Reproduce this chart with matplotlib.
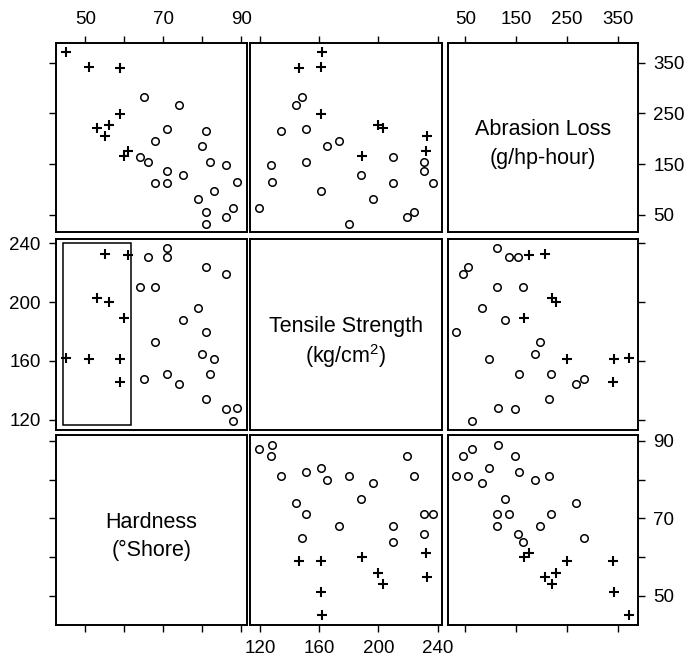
import matplotlib
matplotlib.use('Agg')
import matplotlib.pyplot as plt
from matplotlib.patches import Rectangle
import numpy as np

# rubber specimens: abrasion loss, hardness, tensile strength
loss = [372, 206, 175, 154, 136, 112, 55, 45, 221, 166, 164, 113, 82, 32, 228,
        196, 128, 97, 64, 249, 219, 186, 155, 114, 341, 340, 283, 267, 215, 148]
hard = [45, 55, 61, 66, 71, 71, 81, 86, 53, 60, 64, 68, 79, 81, 56,
        68, 75, 83, 88, 59, 71, 80, 82, 89, 51, 59, 65, 74, 81, 86]
tens = [162, 233, 232, 231, 231, 237, 224, 219, 203, 189, 210, 210, 196, 180, 200,
        173, 188, 161, 119, 161, 151, 165, 151, 128, 161, 146, 148, 144, 134, 127]

# brush drawn in the tensile / hardness panel
brush_hard = (44.2, 61.8)
brush_tens = (116.5, 240)

names = [['Hardness', '(°Shore)'],
         ['Tensile Strength', '(kg/cm$^2$)'],
         ['Abrasion Loss', '(g/hp-hour)']]
hard_ticks = [50, 60, 70, 80, 90]
hard_labels = ['50', '', '70', '', '90']
tens_ticks = [120, 160, 200, 240]
loss_ticks = [50, 150, 250, 350]

plt.rcParams['font.family'] = ['Liberation Sans', 'DejaVu Sans']
plt.rcParams['mathtext.fontset'] = 'custom'
plt.rcParams['mathtext.rm'] = 'Liberation Sans'
plt.rcParams['mathtext.it'] = 'Liberation Sans'

data = [np.array(hard), np.array(tens), np.array(loss)]
lims = [(42.5, 91.5), (113, 243), (16, 389)]
ticks = [hard_ticks, tens_ticks, loss_ticks]
labels = [hard_labels, [str(t) for t in tens_ticks], [str(t) for t in loss_ticks]]

brushed = ((data[0] >= brush_hard[0]) & (data[0] <= brush_hard[1]) &
           (data[1] >= brush_tens[0]) & (data[1] <= brush_tens[1]))

W, H = 686, 663
fig = plt.figure(figsize=(W / 100, H / 100), dpi=100)

col_x = [(56, 247), (250, 442), (448, 638)]
row_y = [(43, 232), (239, 430), (435, 625)]
cols = [0, 1, 2]   # x variable of each column
rows = [2, 1, 0]   # y variable of each row

for i in range(3):
    for j in range(3):
        x0, x1 = col_x[j]
        y0, y1 = row_y[i]
        ax = fig.add_axes([x0 / W, 1 - y1 / H, (x1 - x0) / W, (y1 - y0) / H])
        xv, yv = cols[j], rows[i]
        ax.set_xlim(lims[xv])
        ax.set_ylim(lims[yv])
        ax.set_xticks(ticks[xv])
        ax.set_xticklabels(labels[xv])
        ax.set_yticks(ticks[yv])
        ax.set_yticklabels(labels[yv])
        ax.tick_params(direction='out', length=5, width=1.0, labelsize=13.5, pad=6,
                       top=(i == 0), bottom=(i == 2),
                       labeltop=(i == 0 and j != 1), labelbottom=(i == 2 and j == 1),
                       left=(j == 0), right=(j == 2),
                       labelleft=(j == 0 and i == 1), labelright=(j == 2 and i != 1))
        for s in ax.spines.values():
            s.set_linewidth(1.4)

        if xv == yv:
            # two lines, about 29 px apart, slightly below the centre
            for k, line in enumerate(names[xv]):
                ax.text(0.5, 0.555 - k * 0.152, line, transform=ax.transAxes,
                        ha='center', va='center_baseline', fontsize=15.5)
            continue

        xs, ys = data[xv], data[yv]
        ax.plot(xs[~brushed], ys[~brushed], 'o', mfc='none', mec='black',
                ms=5.4, mew=1.1)
        ax.plot(xs[brushed], ys[brushed], '+', color='black', ms=7.5, mew=1.5)

        if xv == 0 and yv == 1:
            ax.add_patch(Rectangle((brush_hard[0], brush_tens[0]),
                                   brush_hard[1] - brush_hard[0],
                                   brush_tens[1] - brush_tens[0],
                                   fill=False, ec='black', lw=1.1))

fig.savefig('out.png', dpi=100)
